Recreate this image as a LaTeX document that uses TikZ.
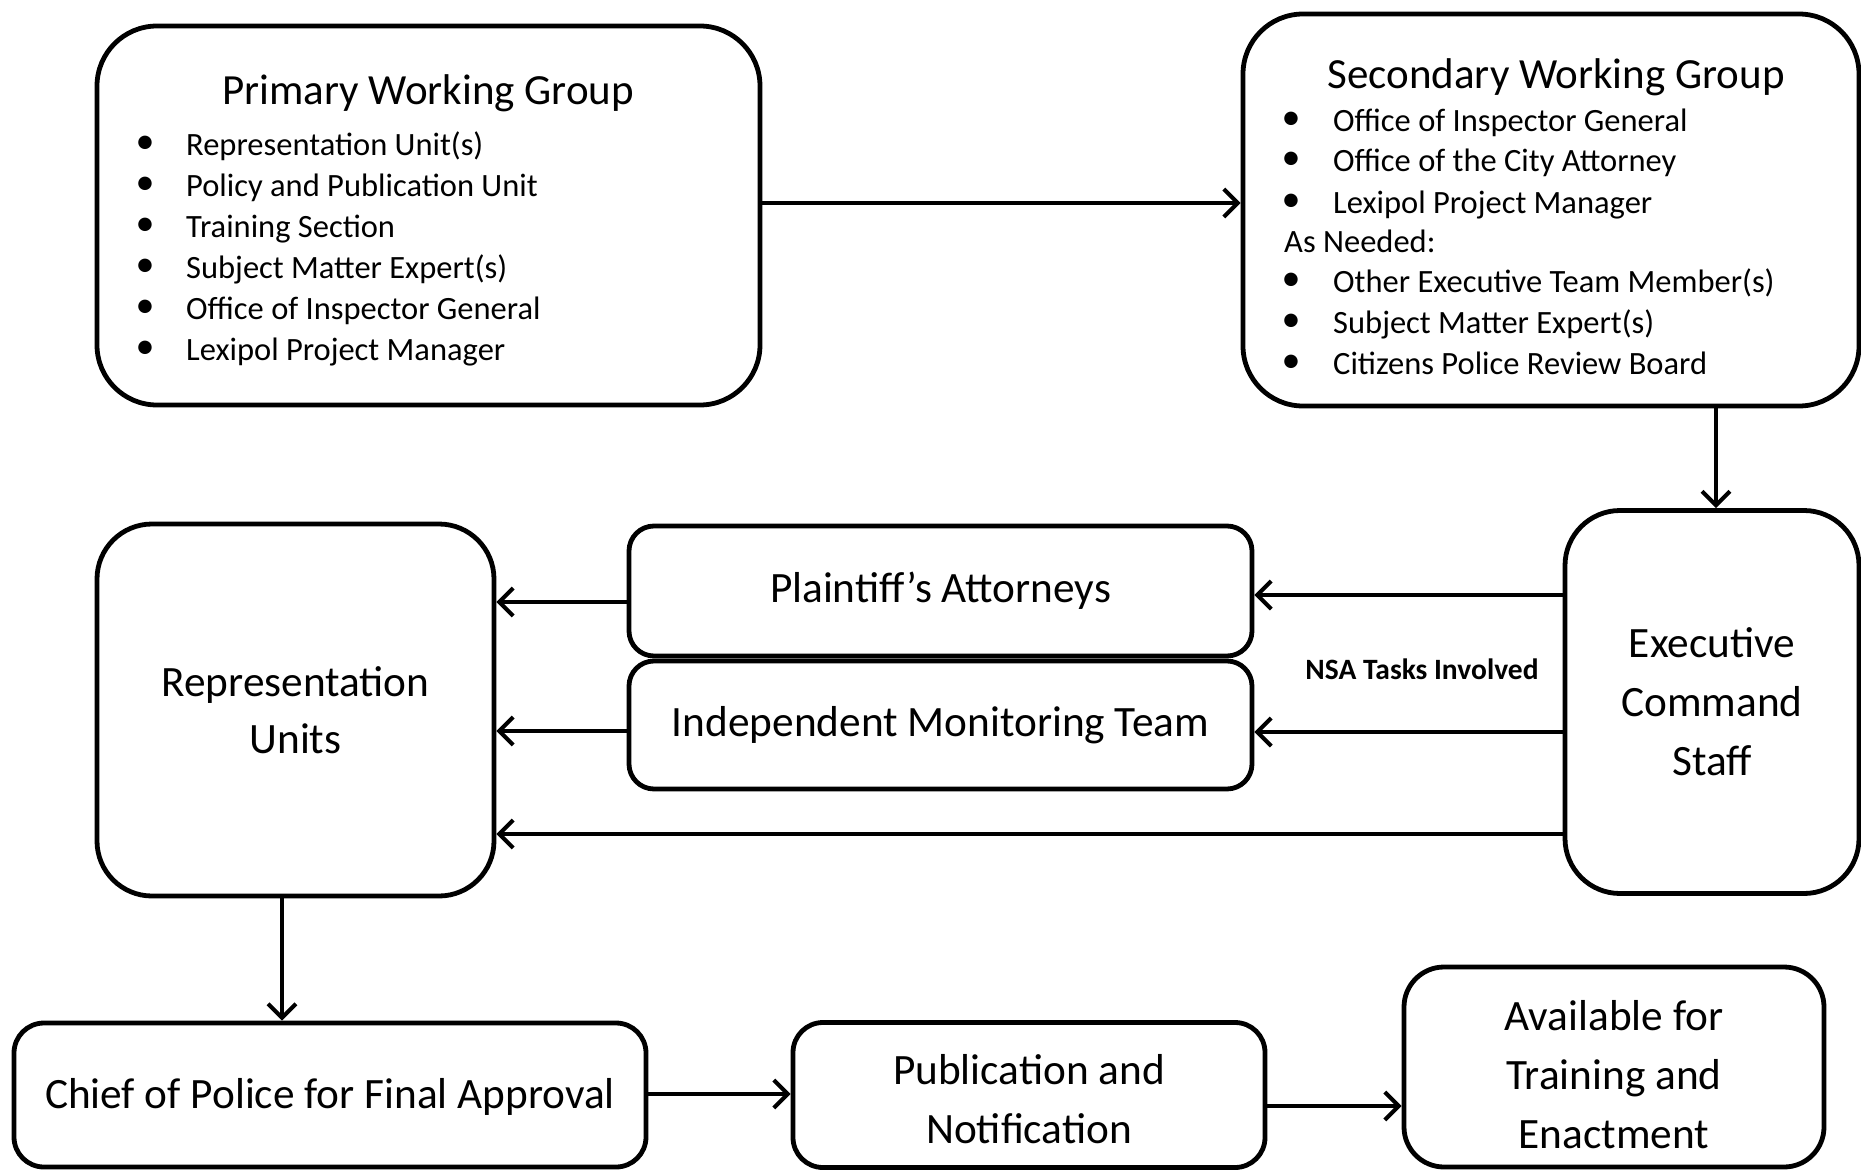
\documentclass[tikz,border=0pt]{standalone}
\usepackage{fontspec}
\setmainfont{Carlito}
\usetikzlibrary{arrows.meta}
\begin{document}
\begin{tikzpicture}[x=1pt,y=-1pt,
  big/.style={inner sep=0pt, align=center, font=\fontsize{43.3}{59}\selectfont},
  box/.style={draw, line width=4.8pt, rounded corners=#1, inner sep=0pt, big},
  box/.default=30pt,
  conn/.style={line width=4pt, -{Straight Barb[length=14pt,width=28pt,line width=4pt]}},
  title/.style={anchor=base, inner sep=0pt, font=\fontsize{43}{48}\selectfont},
  item/.style={anchor=base west, inner sep=0pt, font=\fontsize{32.5}{36}\selectfont},
  dot/.style={anchor=center, inner sep=0pt, font=\fontsize{38}{40}\selectfont},
  note/.style={inner sep=0pt, font=\bfseries\fontsize{29.5}{32}\selectfont}
]
\useasboundingbox (0,0) rectangle (1861,1170);

% boxes
\node[box=60pt, minimum width=663pt, minimum height=379pt] (pwg) at (428.5,215.5) {};
\node[box=60pt, minimum width=616pt, minimum height=392pt] (swg) at (1551,210) {};
\node[box=55pt, minimum width=294pt, minimum height=383pt] (exec) at (1712,702) {Executive\\Command\\Staff};
\node[box=55pt, minimum width=397pt, minimum height=372pt] (rep) at (295.5,710) {Representation\\[-2pt]Units};
\node[box=25pt, minimum width=623pt, minimum height=130pt] (pa) at (940.5,591) {Plaintiff’s Attorneys};
\node[box=25pt, minimum width=623pt, minimum height=128pt] (imt) at (940.5,725) {Independent Monitoring Team};
\node[box=30pt, minimum width=632pt, minimum height=144pt] (chief) at (330,1095) {};
\node[box=30pt, minimum width=472pt, minimum height=145pt] (pub) at (1029,1095) {};
\node[box=40pt, minimum width=420pt, minimum height=200pt] (avail) at (1614,1067) {};
\node[big] (chieft) at ([yshift=-2pt]chief.center) {Chief of Police for Final Approval};
\node[big] (pubt) at ([yshift=-4pt]pub.center) {Publication and\\Notification};
\node[big] (availt) at ([yshift=-8pt]avail.center) {Available for\\Training and\\Enactment};

% primary working group text
\node[title] (pt) at (428,104) {Primary Working Group};
\foreach \i/\t in {0/Representation Unit(s),1/Policy and Publication Unit,2/Training Section,3/Subject Matter Expert(s),4/Office of Inspector General,5/Lexipol Project Manager}{
  \node[dot] (pb\i) at (145,{145+41*\i}) {•};
  \node[item] (pi\i) at (186,{155+41*\i}) {\t};
}

% secondary working group text
\node[title] (st) at (1556,88) {Secondary Working Group};
\foreach \i/\y/\t in {0/121/Office of Inspector General,1/161/Office of the City Attorney,2/203/Lexipol Project Manager,4/282/Other Executive Team Member(s),5/323/Subject Matter Expert(s),6/364/Citizens Police Review Board}{
  \node[dot] (sb\i) at (1291,\y) {•};
  \node[item] (si\i) at (1333,\y+10) {\t};
}
\node[item] (asn) at (1284,252) {As Needed:};

\node[note] (nsa) at (1422,669) {NSA Tasks Involved};

% connectors
\draw[conn] (pwg.east |- 0,203) -- (swg.west |- 0,203);
\draw[conn] (swg.south -| 1716,0) -- (exec.north -| 1716,0);
\draw[conn] (exec.west |- 0,595) -- (pa.east |- 0,595);
\draw[conn] (exec.west |- 0,732) -- (imt.east |- 0,732);
\draw[conn] (exec.west |- 0,834) -- (rep.east |- 0,834);
\draw[conn] (pa.west |- 0,602) -- (rep.east |- 0,602);
\draw[conn] (imt.west |- 0,731) -- (rep.east |- 0,731);
\draw[conn] (rep.south -| 282,0) -- (chief.north -| 282,0);
\draw[conn] (chief.east |- 0,1094) -- (pub.west |- 0,1094);
\draw[conn] (pub.east |- 0,1106) -- (avail.west |- 0,1106);
\end{tikzpicture}
\end{document}
